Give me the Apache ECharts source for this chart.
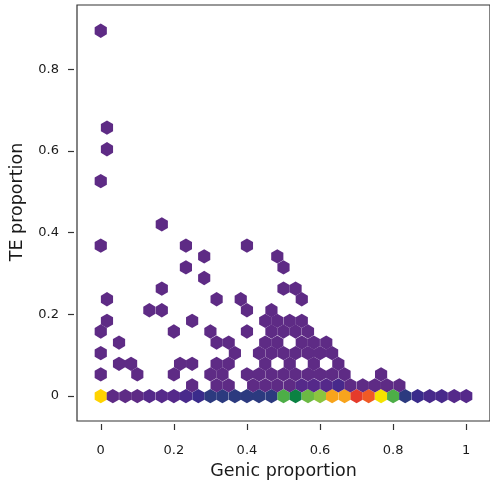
<!DOCTYPE html>
<html>
<head>
<meta charset="utf-8">
<script src="https://cdn.jsdelivr.net/npm/echarts@6/dist/echarts.min.js"></script>
<style>
  html, body { margin: 0; padding: 0; background: #fff; }
  #chart { width: 490px; height: 489px; }
</style>
</head>
<body>
<div id="chart"></div>
<script>
// hexbin: x = Genic proportion, y = TE proportion, one hexagon per occupied bin
var xTicks = [0, 0.2, 0.4, 0.6, 0.8, 1];
var yTicks = [0, 0.2, 0.4, 0.6, 0.8];

// y centre of each hex row
var rowY = [0, 0.026, 0.053, 0.079, 0.105, 0.131, 0.158, 0.184, 0.210, 0.237,
            0.263, 0.289, 0.315, 0.342, 0.368, 0.420, 0.526, 0.604, 0.657, 0.894];

// x centres of the hexes in each row
var rowX = [
  [0, 0.033, 0.067, 0.1, 0.133, 0.167, 0.2, 0.233, 0.267, 0.3, 0.333, 0.367, 0.4, 0.433, 0.467, 0.5,
   0.533, 0.567, 0.6, 0.633, 0.667, 0.7, 0.733, 0.767, 0.8, 0.833, 0.867, 0.9, 0.933, 0.967, 1],
  [0.25, 0.317, 0.35, 0.417, 0.45, 0.483, 0.517, 0.55, 0.583, 0.617, 0.65, 0.683, 0.717, 0.75, 0.783, 0.817],
  [0, 0.1, 0.2, 0.3, 0.333, 0.4, 0.433, 0.467, 0.5, 0.533, 0.567, 0.6, 0.633, 0.667, 0.767],
  [0.05, 0.083, 0.217, 0.25, 0.317, 0.35, 0.45, 0.517, 0.583, 0.65],
  [0, 0.367, 0.433, 0.467, 0.5, 0.533, 0.567, 0.6, 0.633],
  [0.05, 0.317, 0.35, 0.45, 0.483, 0.55, 0.583, 0.617],
  [0, 0.2, 0.3, 0.4, 0.467, 0.5, 0.533, 0.567],
  [0.017, 0.25, 0.45, 0.483, 0.517, 0.55],
  [0.133, 0.167, 0.4, 0.467],
  [0.017, 0.317, 0.383, 0.55],
  [0.167, 0.5, 0.533],
  [0.283],
  [0.233, 0.5],
  [0.283, 0.483],
  [0, 0.233, 0.4],
  [0.167],
  [0],
  [0.017],
  [0.017],
  [0]
];

// colour level (count class) of the hexes in each row
var rowLevel = [
  [11, 1, 1, 1, 2, 2, 2, 3, 4, 5, 5, 5, 5, 5, 5, 7, 6, 8, 9, 12, 12, 14, 13, 10, 7, 5, 4, 3, 3, 2, 2],
  [1, 1, 1, 1, 1, 1, 1, 2, 2, 2, 3, 1, 1, 1, 1, 1],
  [1, 1, 1, 1, 1, 1, 1, 1, 1, 1, 1, 1, 1, 1, 1],
  [1, 1, 1, 1, 1, 1, 1, 1, 1, 1],
  [1, 1, 1, 1, 1, 1, 1, 1, 1],
  [1, 1, 1, 1, 1, 1, 1, 1],
  [1, 1, 1, 1, 1, 1, 1, 1],
  [1, 1, 1, 1, 1, 1],
  [1, 1, 1, 1],
  [1, 1, 1, 1],
  [1, 1, 1],
  [1],
  [1, 1],
  [1, 1],
  [1, 1, 1],
  [1],
  [1],
  [1],
  [1],
  [1]
];

var levelColors = ['#5E2B85', '#55298A', '#48298B', '#3A2B8B', '#2C3A7F', '#0B8243', '#4DAE47',
                   '#6BB944', '#8CC43F', '#F4E300', '#FFD300', '#F8A41C', '#F05A25', '#E53B2B'];

// bin size: 30 bins across x, row spacing in y
var binW = 1 / 30;
var binH = 0.02628;

var hexData = [];
for (var i = 0; i < rowY.length; i++) {
    for (var j = 0; j < rowX[i].length; j++) {
        hexData.push([rowX[i][j], rowY[i], rowLevel[i][j]]);
    }
}

function renderHex(params, api) {
    var c = api.coord([api.value(0), api.value(1)]);
    var s = api.size([binW, binH]);
    var hw = s[0] / 2;
    var r = s[1] * 2 / 3;
    return {
        type: 'polygon',
        shape: {
            points: [
                [c[0], c[1] - r],
                [c[0] + hw, c[1] - r / 2],
                [c[0] + hw, c[1] + r / 2],
                [c[0], c[1] + r],
                [c[0] - hw, c[1] + r / 2],
                [c[0] - hw, c[1] - r / 2]
            ]
        },
        style: { fill: api.visual('color'), stroke: null }
    };
}

var myChart = echarts.init(document.getElementById('chart'));
var textColor = '#1a1a1a';
var font = 'DejaVu Sans';

var option = {
    animation: false,
    grid: {
        left: 76, right: -2, top: 5, bottom: 68,
        show: true, borderColor: '#333', borderWidth: 1.2
    },
    xAxis: {
        type: 'value',
        min: -0.065, max: 1.065,
        offset: 3,
        splitLine: { show: false },
        axisLine: { show: false, onZero: false },
        axisTick: { show: true, length: 6, customValues: xTicks, lineStyle: { color: '#333', width: 1.2 } },
        axisLabel: {
            customValues: xTicks, margin: 20,
            color: textColor, fontFamily: font, fontSize: 13
        },
        name: 'Genic proportion',
        nameLocation: 'middle',
        nameGap: 38,
        nameTextStyle: { color: textColor, fontFamily: font, fontSize: 17.5 }
    },
    yAxis: {
        type: 'value',
        min: -0.061, max: 0.957,
        offset: 3,
        splitLine: { show: false },
        axisLine: { show: false, onZero: false },
        axisTick: { show: true, length: 6, customValues: yTicks, lineStyle: { color: '#333', width: 1.2 } },
        axisLabel: {
            customValues: yTicks, margin: 15,
            color: textColor, fontFamily: font, fontSize: 13
        },
        name: 'TE proportion',
        nameLocation: 'middle',
        nameGap: 48,
        nameTextStyle: { color: textColor, fontFamily: font, fontSize: 17.5, padding: [0, 0, 0, 22] }
    },
    visualMap: {
        type: 'piecewise',
        show: false,
        dimension: 2,
        pieces: levelColors.map(function (c, k) { return { value: k + 1, color: c }; })
    },
    series: [{
        type: 'custom',
        renderItem: renderHex,
        data: hexData,
        encode: { x: 0, y: 1 }
    }]
};
myChart.setOption(option);
</script>
</body>
</html>
